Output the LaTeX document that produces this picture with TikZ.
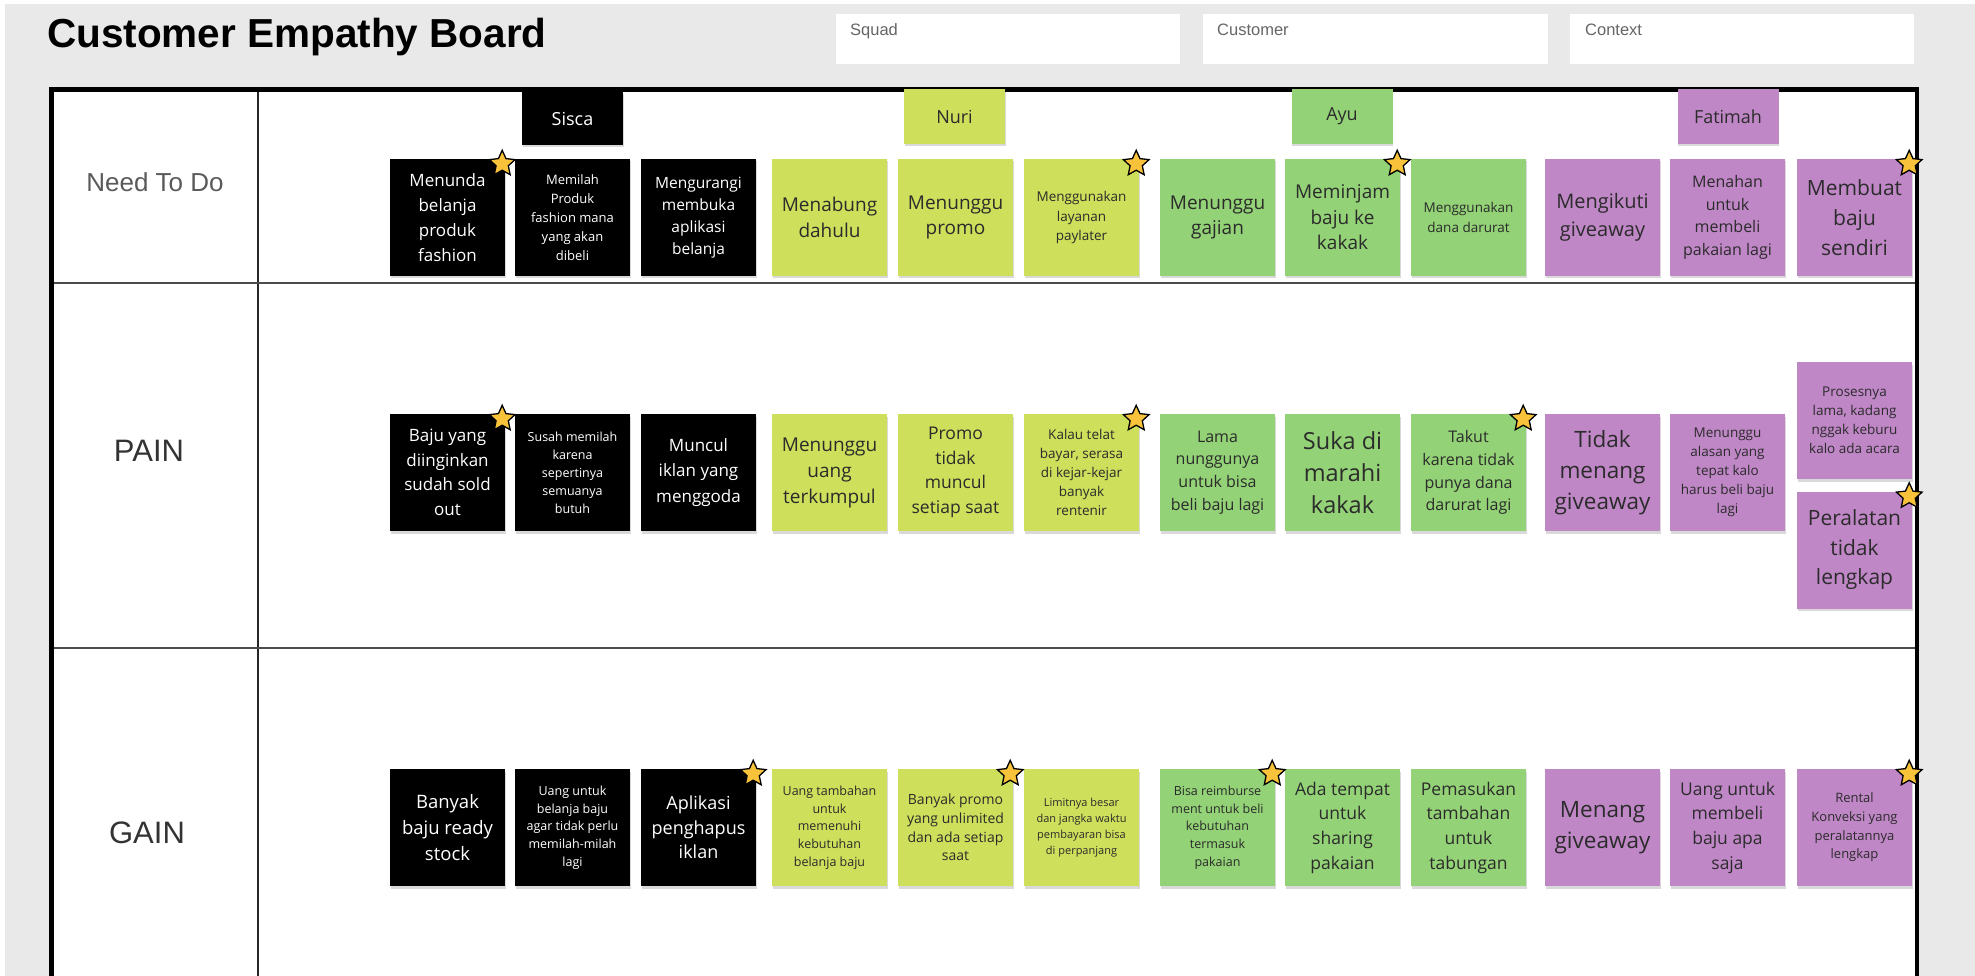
\documentclass[tikz,border=0pt]{standalone}
\usepackage{fontspec}
\setmainfont{Liberation Sans}
\newfontfamily\notefont{Open Sans}
\newfontfamily\labfont{Liberation Sans}
\usetikzlibrary{shapes.geometric,shadows}
\definecolor{bggray}{HTML}{E9E9E9}
\definecolor{limec}{HTML}{CEDF5B}
\definecolor{grnc}{HTML}{93D276}
\definecolor{purc}{HTML}{C087C7}
\definecolor{staryel}{HTML}{F8C23A}
\definecolor{notetext}{HTML}{2B2B2B}
\definecolor{hdrtext}{HTML}{666666}
\definecolor{rowtext}{HTML}{5A5A5A}
\newcommand\nf[2]{\notefont\fontsize{#1}{#2}\selectfont}
\tikzset{
  note/.style={rectangle, minimum width=115pt, minimum height=117pt, inner sep=0pt,
    align=center, text=notetext,
    drop shadow={shadow xshift=0.5pt, shadow yshift=-2.5pt, opacity=0.15, fill=black}},
  blk/.style={note, fill=black, text=white},
  lime/.style={note, fill=limec},
  grn/.style={note, fill=grnc},
  pur/.style={note, fill=purc},
  namebox/.style={rectangle, minimum width=101pt, minimum height=55pt, inner sep=0pt,
    font=\nf{18}{22}, text=notetext,
    drop shadow={shadow xshift=0.5pt, shadow yshift=-2pt, opacity=0.15, fill=black}},
  fav/.style={star, star points=5, star point ratio=2.1, fill=staryel, draw=black,
    line width=1.3pt, minimum size=27pt, inner sep=0pt},
  hdrbox/.style={rectangle, fill=white, minimum width=344pt, minimum height=50pt, inner sep=0pt},
  hdrlabel/.style={font=\labfont\fontsize{16.5}{18}\selectfont, text=hdrtext, inner sep=0pt, anchor=base west},
  rowlabel/.style={font=\labfont\fontsize{26}{28}\selectfont, text=rowtext, inner sep=0pt},
  biglabel/.style={font=\labfont\fontsize{31}{34}\selectfont, text=black!80, inner sep=0pt},
}
\begin{document}
\begin{tikzpicture}[x=1pt,y=-1pt]
\useasboundingbox (0,0) rectangle (1975,976);
\clip (0,0) rectangle (1975,976);
\fill[white] (0,0) rectangle (1975,976);
\fill[bggray] (5,4) rectangle (1975,976);

% title
\node[anchor=base west, inner sep=0pt, font=\labfont\bfseries\fontsize{40.5}{44}\selectfont] (title) at (47,48) {Customer Empathy Board};

% header boxes
\node[hdrbox, minimum width=344pt] (squad) at (1008,39) {};
\node[hdrbox, minimum width=345pt] (customer) at (1375.5,39) {};
\node[hdrbox, minimum width=344pt] (context) at (1742,39) {};
\node[hdrlabel] (squadl) at (850,36) {Squad};
\node[hdrlabel] (customerl) at (1217,36) {Customer};
\node[hdrlabel] (contextl) at (1585,36) {Context};

% table
\fill[white] (51,89) rectangle (1917,990);
\draw[line width=1.6pt, black!85] (258,89) -- (258,990);
\draw[line width=2.6pt, black!70] (51,283) -- (1917,283);
\draw[line width=2.6pt, black!70] (51,648) -- (1917,648);
\draw[line width=4.5pt, black] (51.5,990) -- (51.5,89.5) -- (1917,89.5) -- (1917,990);

% row labels
\node[rowlabel] (needl) at (155,182) {Need To Do};
\node[biglabel] (painl) at (149,451) {PAIN};
\node[biglabel] (gainl) at (147,833) {GAIN};

% name boxes
\node[namebox, fill=black, text=white, minimum height=53pt] (sisca) at (572.5,118.5) {Sisca};
\node[namebox, fill=limec] (nuri) at (954.5,116.5) {Nuri};
\node[namebox, fill=grnc] (ayu) at (1342,116.5) {Ayu};
\node[namebox, fill=purc] (fatimah) at (1728,116.5) {Fatimah};

% ---------- Need To Do row ----------
\node[blk, font=\nf{17}{25}] (n1) at (447.5,217.5) {Menunda\\belanja\\produk\\fashion};
\node[blk, font=\nf{13}{19}] (n2) at (572.5,217.5) {Memilah\\Produk\\fashion mana\\yang akan\\dibeli};
\node[blk, font=\nf{15.5}{22}] (n3) at (698.5,217.5) {Mengurangi\\membuka\\aplikasi\\belanja};
\node[lime, font=\nf{19}{25.5}] (n4) at (829.5,217.5) {Menabung\\dahulu};
\node[lime, font=\nf{19}{25.5}] (n5) at (955.5,217.5) {Menunggu\\promo};
\node[lime, font=\nf{13.5}{19.5}] (n6) at (1081.5,217.5) {Menggunakan\\layanan\\paylater};
\node[grn, font=\nf{19}{25.5}] (n7) at (1217.5,217.5) {Menunggu\\gajian};
\node[grn, font=\nf{19}{25.5}] (n8) at (1342.5,217.5) {Meminjam\\baju ke\\kakak};
\node[grn, font=\nf{13.5}{20}] (n9) at (1468.5,217.5) {Menggunakan\\dana darurat};
\node[pur, font=\nf{20}{28}] (n10) at (1602.5,217.5) {Mengikuti\\giveaway};
\node[pur, font=\nf{16}{22.5}] (n11) at (1727.5,217.5) {Menahan\\untuk\\membeli\\pakaian lagi};
\node[pur, font=\nf{21}{30}] (n12) at (1854.5,217.5) {Membuat\\baju\\sendiri};

% ---------- PAIN row ----------
\node[blk, font=\nf{17}{24.5}] (p1) at (447.5,472.5) {Baju yang\\diinginkan\\sudah sold\\out};
\node[blk, font=\nf{12.5}{18}] (p2) at (572.5,472.5) {Susah memilah\\karena\\sepertinya\\semuanya\\butuh};
\node[blk, font=\nf{17}{25.5}] (p3) at (698.5,472.5) {Muncul\\iklan yang\\menggoda};
\node[lime, font=\nf{19}{26}] (p4) at (829.5,472.5) {Menunggu\\uang\\terkumpul};
\node[lime, font=\nf{17.5}{24.7}] (p5) at (955.5,472.5) {Promo\\tidak\\muncul\\setiap saat};
\node[lime, font=\nf{13.5}{19}] (p6) at (1081.5,472.5) {Kalau telat\\bayar, serasa\\di kejar-kejar\\banyak\\rentenir};
\node[grn, font=\nf{16}{22.7}] (p7) at (1217.5,472.5) {Lama\\nunggunya\\untuk bisa\\beli baju lagi};
\node[grn, font=\nf{23.5}{32}] (p8) at (1342.5,472.5) {Suka di\\marahi\\kakak};
\node[grn, font=\nf{16}{22.7}] (p9) at (1468.5,472.5) {Takut\\karena tidak\\punya dana\\darurat lagi};
\node[pur, font=\nf{22.5}{31}] (p10) at (1602.5,472.5) {Tidak\\menang\\giveaway};
\node[pur, font=\nf{13.5}{19}] (p11) at (1727.5,472.5) {Menunggu\\alasan yang\\tepat kalo\\harus beli baju\\lagi};
\node[pur, font=\nf{13.5}{19}] (p12a) at (1854.5,420.5) {Prosesnya\\lama, kadang\\nggak keburu\\kalo ada acara};
\node[pur, font=\nf{21}{29.5}] (p12b) at (1854.5,550) {Peralatan\\tidak\\lengkap};

% ---------- GAIN row ----------
\node[blk, font=\nf{18.5}{25.7}] (g1) at (447.5,827.5) {Banyak\\baju ready\\stock};
\node[blk, font=\nf{12.5}{17.7}] (g2) at (572.5,827.5) {Uang untuk\\belanja baju\\agar tidak perlu\\memilah-milah\\lagi};
\node[blk, font=\nf{18}{24.7}] (g3) at (698.5,827.5) {Aplikasi\\penghapus\\iklan};
\node[lime, font=\nf{12.5}{17.7}] (g4) at (829.5,827.5) {Uang tambahan\\untuk\\memenuhi\\kebutuhan\\belanja baju};
\node[lime, font=\nf{14}{18.7}] (g5) at (955.5,827.5) {Banyak promo\\yang unlimited\\dan ada setiap\\saat};
\node[lime, font=\nf{11}{16}] (g6) at (1081.5,827.5) {Limitnya besar\\dan jangka waktu\\pembayaran bisa\\di perpanjang};
\node[grn, font=\nf{12.5}{17.7}] (g7) at (1217.5,827.5) {Bisa reimburse\\ment untuk beli\\kebutuhan\\termasuk\\pakaian};
\node[grn, font=\nf{17.5}{24.7}] (g8) at (1342.5,827.5) {Ada tempat\\untuk\\sharing\\pakaian};
\node[grn, font=\nf{17.5}{24.7}] (g9) at (1468.5,827.5) {Pemasukan\\tambahan\\untuk\\tabungan};
\node[pur, font=\nf{22.5}{31}] (g10) at (1602.5,827.5) {Menang\\giveaway};
\node[pur, font=\nf{17.5}{24.7}] (g11) at (1727.5,827.5) {Uang untuk\\membeli\\baju apa\\saja};
\node[pur, font=\nf{13}{18.7}] (g12) at (1854.5,827.5) {Rental\\Konveksi yang\\peralatannya\\lengkap};

% stars
\foreach \n in {n1,n6,n8,n12,p1,p6,p9,p12b,g3,g5,g7,g12}
  \node[fav] (s-\n) at ([xshift=-3pt,yshift=-5pt]\n.north east) {};
\end{tikzpicture}
\end{document}
